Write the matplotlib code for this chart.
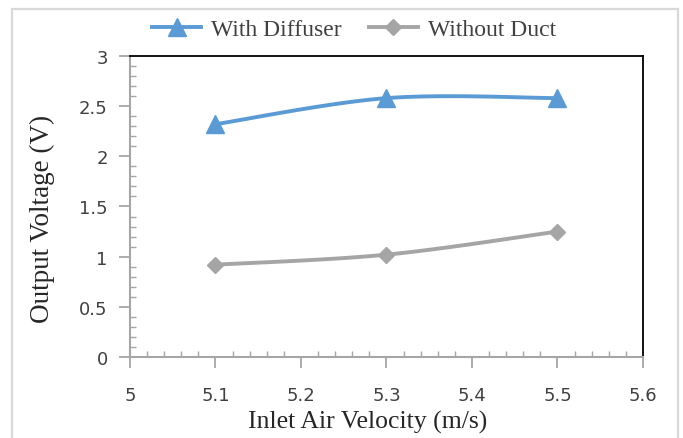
import numpy as np
import matplotlib
matplotlib.use("Agg")
import matplotlib.pyplot as plt
from matplotlib.ticker import AutoMinorLocator
from matplotlib.lines import Line2D
from matplotlib.patches import Rectangle

velocity = [5.1, 5.3, 5.5]
with_diffuser = [2.32, 2.58, 2.58]
without_duct = [0.92, 1.02, 1.25]
series_names = ["With Diffuser", "Without Duct"]
x_ticks = [5, 5.1, 5.2, 5.3, 5.4, 5.5, 5.6]
y_ticks = [0, 0.5, 1, 1.5, 2, 2.5, 3]
x_tick_labels = ["5", "5.1", "5.2", "5.3", "5.4", "5.5", "5.6"]
y_tick_labels = ["0", "0.5", "1", "1.5", "2", "2.5", "3"]

BLUE = "#5B9BD5"
GRAY = "#A5A5A5"
SERIF = ["Liberation Serif", "DejaVu Serif"]
SANS = ["DejaVu Sans"]


def smooth(x, y, n=60):
    # Excel-style smoothed line (Catmull-Rom through the points)
    x = np.asarray(x, float)
    y = np.asarray(y, float)
    px = np.concatenate([[x[0]], x, [x[-1]]])
    py = np.concatenate([[y[0]], y, [y[-1]]])
    xs, ys = [], []
    t = np.linspace(0, 1, n)
    for i in range(1, len(px) - 2):
        p0, p1, p2, p3 = [np.array([px[j], py[j]]) for j in (i - 1, i, i + 1, i + 2)]
        c1 = p1 + (p2 - p0) / 6.0
        c2 = p2 - (p3 - p1) / 6.0
        b = ((1 - t) ** 3)[:, None] * p1 + (3 * (1 - t) ** 2 * t)[:, None] * c1 + \
            (3 * (1 - t) * t ** 2)[:, None] * c2 + (t ** 3)[:, None] * p2
        xs.extend(b[:, 0])
        ys.extend(b[:, 1])
    return np.array(xs), np.array(ys)


fig = plt.figure(figsize=(6.83, 4.39), dpi=100)
fig.patch.set_facecolor("white")
fig.patches.append(Rectangle((0.0183, -0.05), 0.9751, 1.0272, transform=fig.transFigure,
                             fill=False, edgecolor="#D9D9D9", linewidth=1.6))
ax = fig.add_axes([0.1903, 0.1845, 0.7511, 0.6857])

for yv, col, mk, ms in [(with_diffuser, BLUE, "^", 13), (without_duct, GRAY, "D", 8)]:
    sx, sy = smooth(velocity, yv)
    ax.plot(sx, sy, color=col, linewidth=2.8, solid_capstyle="round", zorder=3)
    ax.plot(velocity, yv, linestyle="none", marker=mk, markersize=ms, color=col, zorder=4)

ax.set_xlim(5, 5.6)
ax.set_ylim(0, 3)
ax.set_xticks(x_ticks)
ax.set_xticklabels(x_tick_labels)
ax.set_yticks(y_ticks)
ax.set_yticklabels(y_tick_labels)
ax.xaxis.set_minor_locator(AutoMinorLocator(5))
ax.yaxis.set_minor_locator(AutoMinorLocator(5))

for s in ["left", "bottom"]:
    ax.spines[s].set_color("#A6A6A6")
    ax.spines[s].set_linewidth(1.5)
for s in ["top", "right"]:
    ax.spines[s].set_color("black")
    ax.spines[s].set_linewidth(1.3)

ax.tick_params(which="major", direction="out", length=8, width=1.3, color="#A6A6A6",
               labelsize=13, labelcolor="#404040", pad=8)
ax.tick_params(axis="x", which="major", pad=13)
ax.tick_params(which="minor", direction="in", length=4, width=1.0, color="#A6A6A6")
for lab in ax.get_xticklabels() + ax.get_yticklabels():
    lab.set_family(SANS)

ax.set_xlabel("Inlet Air Velocity (m/s)", fontsize=18.5, family=SERIF, color="#262626")
ax.set_ylabel("Output Voltage (V)", fontsize=19.5, family=SERIF, color="#262626")
ax.xaxis.set_label_coords(0.464, -0.215)
ax.yaxis.set_label_coords(-0.171, 0.462)
ax.xaxis.label.set_verticalalignment("center")
ax.yaxis.label.set_verticalalignment("center")

handles = [Line2D([], [], color=BLUE, linewidth=2.8, marker="^", markersize=13),
           Line2D([], [], color=GRAY, linewidth=2.8, marker="D", markersize=8)]
fig.legend(handles, series_names, loc="center", bbox_to_anchor=(0.518, 0.93), ncol=2,
           frameon=False, prop={"family": SERIF, "size": 17}, labelcolor="#404040",
           handlelength=2.1, columnspacing=1.15, handletextpad=0.4)

fig.savefig("out.png", dpi=100, facecolor="white")
